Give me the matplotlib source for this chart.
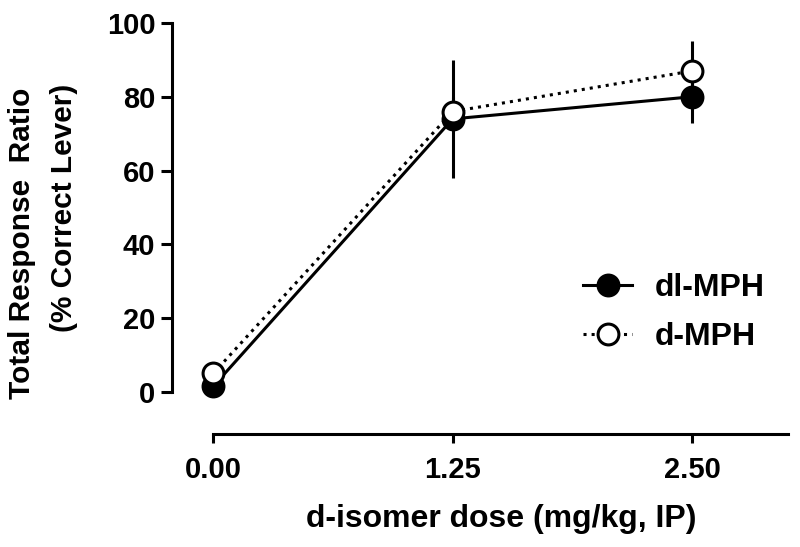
import matplotlib
matplotlib.use("Agg")
import matplotlib.pyplot as plt

plt.rcParams['font.family'] = ['Liberation Sans', 'DejaVu Sans']
plt.rcParams['font.weight'] = 'bold'

doses = [0.0, 1.25, 2.50]
dose_labels = ["0.00", "1.25", "2.50"]
dl_mph = [1.5, 74, 80]
dl_err = [1, 16, 7]
d_mph = [5, 76, 87]
d_err = [1, 4, 8]
yticks = [0, 20, 40, 60, 80, 100]

W, H = 800, 547
fig = plt.figure(figsize=(8, 5.47), dpi=100)
ax = fig.add_axes([0.215, 0.2066, 0.77, 0.7514])

lw = 2.2
eb1 = ax.errorbar(doses, dl_mph, yerr=dl_err, color='black', lw=lw, elinewidth=lw,
                  capsize=0, marker='o', ms=15, mfc='black', mec='black', mew=lw,
                  label='dl-MPH', clip_on=False, zorder=3)
eb2 = ax.errorbar(doses, d_mph, yerr=d_err, color='black', lw=lw, elinewidth=lw,
                  capsize=0, marker='o', ms=15, mfc='white', mec='black', mew=lw,
                  ls=':', label='d-MPH', clip_on=False, zorder=4)

ax.set_xlim(-0.215, 3.0)
ax.set_ylim(-11.4, 100)
ax.spines['top'].set_visible(False)
ax.spines['right'].set_visible(False)
ax.spines['left'].set_bounds(0, 100)
ax.spines['bottom'].set_bounds(0, 3.0)
for s in ('left', 'bottom'):
    ax.spines[s].set_linewidth(lw)
ax.set_xticks(doses)
ax.set_xticklabels(dose_labels)
ax.set_yticks(yticks)
ax.tick_params(direction='out', width=lw, labelsize=21)
ax.tick_params(axis='y', length=8, pad=4)
ax.tick_params(axis='x', length=6.5, pad=9)

fig.text(501 / W, 1 - 527 / H, "d-isomer dose (mg/kg, IP)", fontsize=23,
         fontweight='bold', ha='center', va='baseline')
fig.text(22 / W, 1 - 243 / H, "Total Response  Ratio", fontsize=21.5,
         fontweight='bold', rotation=90, ha='center', va='center')
fig.text(64 / W, 1 - 208 / H, "(% Correct Lever)", fontsize=21.5,
         fontweight='bold', rotation=90, ha='center', va='center')

leg = ax.legend(handles=[eb1.lines[0], eb2.lines[0]], labels=['dl-MPH', 'd-MPH'],
                loc='center left', bbox_to_anchor=(570 / W, 1 - 312.5 / H),
                bbox_transform=fig.transFigure, borderaxespad=0, frameon=False,
                fontsize=23, handlelength=1.55, handletextpad=0.7, labelspacing=0.6)
for t in leg.get_texts():
    t.set_fontweight('bold')

fig.savefig("out.png", dpi=100)
